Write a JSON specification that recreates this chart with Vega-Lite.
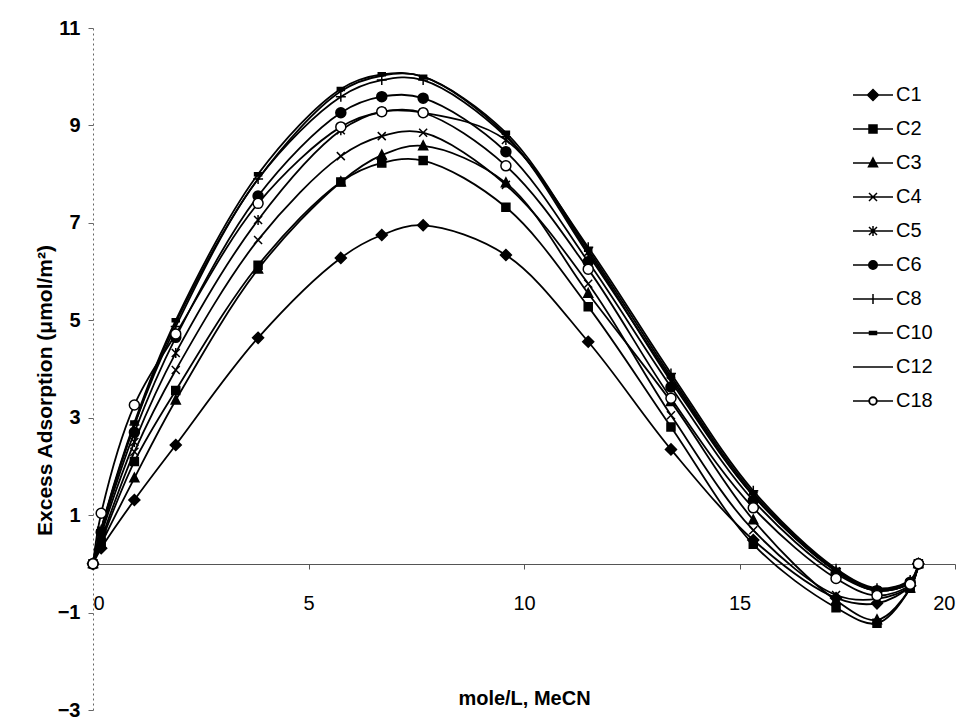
{
  "$schema": "https://vega.github.io/schema/vega-lite/v6.json",
  "width": 862,
  "height": 682,
  "autosize": "none",
  "padding": {"left": 93, "top": 28, "right": 17, "bottom": 14},
  "background": "white",
  "config": {"view": {"stroke": null}, "font": "Liberation Sans"},
  "datasets": {
    "pts": [
      {"s":"C1","x":0,"y":0},{"s":"C1","x":0.19,"y":0.32},{"s":"C1","x":0.96,"y":1.31},{"s":"C1","x":1.92,"y":2.44},{"s":"C1","x":3.83,"y":4.64},{"s":"C1","x":5.75,"y":6.28},{"s":"C1","x":6.70,"y":6.75},{"s":"C1","x":7.66,"y":6.95},{"s":"C1","x":9.58,"y":6.34},{"s":"C1","x":11.49,"y":4.56},{"s":"C1","x":13.41,"y":2.35},{"s":"C1","x":15.32,"y":0.49},{"s":"C1","x":17.24,"y":-0.70},{"s":"C1","x":18.19,"y":-0.81},{"s":"C1","x":18.96,"y":-0.45},{"s":"C1","x":19.15,"y":0},
      {"s":"C2","x":0,"y":0},{"s":"C2","x":0.19,"y":0.45},{"s":"C2","x":0.96,"y":2.10},{"s":"C2","x":1.92,"y":3.56},{"s":"C2","x":3.83,"y":6.13},{"s":"C2","x":5.75,"y":7.84},{"s":"C2","x":6.70,"y":8.23},{"s":"C2","x":7.66,"y":8.28},{"s":"C2","x":9.58,"y":7.32},{"s":"C2","x":11.49,"y":5.28},{"s":"C2","x":13.41,"y":2.81},{"s":"C2","x":15.32,"y":0.40},{"s":"C2","x":17.24,"y":-0.90},{"s":"C2","x":18.19,"y":-1.22},{"s":"C2","x":18.96,"y":-0.50},{"s":"C2","x":19.15,"y":0},
      {"s":"C3","x":0,"y":0},{"s":"C3","x":0.19,"y":0.40},{"s":"C3","x":0.96,"y":1.76},{"s":"C3","x":1.92,"y":3.36},{"s":"C3","x":3.83,"y":6.05},{"s":"C3","x":5.75,"y":7.84},{"s":"C3","x":6.70,"y":8.39},{"s":"C3","x":7.66,"y":8.58},{"s":"C3","x":9.58,"y":7.82},{"s":"C3","x":11.49,"y":5.55},{"s":"C3","x":13.41,"y":3.33},{"s":"C3","x":15.32,"y":0.90},{"s":"C3","x":17.24,"y":-0.75},{"s":"C3","x":18.19,"y":-1.15},{"s":"C3","x":18.96,"y":-0.50},{"s":"C3","x":19.15,"y":0},
      {"s":"C4","x":0,"y":0},{"s":"C4","x":0.19,"y":0.50},{"s":"C4","x":0.96,"y":2.30},{"s":"C4","x":1.92,"y":3.98},{"s":"C4","x":3.83,"y":6.65},{"s":"C4","x":5.75,"y":8.37},{"s":"C4","x":6.70,"y":8.78},{"s":"C4","x":7.66,"y":8.85},{"s":"C4","x":9.58,"y":7.78},{"s":"C4","x":11.49,"y":5.75},{"s":"C4","x":13.41,"y":3.05},{"s":"C4","x":15.32,"y":0.69},{"s":"C4","x":17.24,"y":-0.64},{"s":"C4","x":18.19,"y":-0.72},{"s":"C4","x":18.96,"y":-0.45},{"s":"C4","x":19.15,"y":0},
      {"s":"C5","x":0,"y":0},{"s":"C5","x":0.19,"y":0.60},{"s":"C5","x":0.96,"y":2.50},{"s":"C5","x":1.92,"y":4.33},{"s":"C5","x":3.83,"y":7.06},{"s":"C5","x":5.75,"y":8.90},{"s":"C5","x":6.70,"y":9.28},{"s":"C5","x":7.66,"y":9.26},{"s":"C5","x":9.58,"y":8.70},{"s":"C5","x":11.49,"y":6.40},{"s":"C5","x":13.41,"y":3.75},{"s":"C5","x":15.32,"y":1.40},{"s":"C5","x":17.24,"y":-0.15},{"s":"C5","x":18.19,"y":-0.55},{"s":"C5","x":18.96,"y":-0.38},{"s":"C5","x":19.15,"y":0},
      {"s":"C6","x":0,"y":0},{"s":"C6","x":0.19,"y":0.65},{"s":"C6","x":0.96,"y":2.70},{"s":"C6","x":1.92,"y":4.65},{"s":"C6","x":3.83,"y":7.55},{"s":"C6","x":5.75,"y":9.26},{"s":"C6","x":6.70,"y":9.59},{"s":"C6","x":7.66,"y":9.56},{"s":"C6","x":9.58,"y":8.46},{"s":"C6","x":11.49,"y":6.20},{"s":"C6","x":13.41,"y":3.63},{"s":"C6","x":15.32,"y":1.30},{"s":"C6","x":17.24,"y":-0.20},{"s":"C6","x":18.19,"y":-0.55},{"s":"C6","x":18.96,"y":-0.38},{"s":"C6","x":19.15,"y":0},
      {"s":"C8","x":0,"y":0},{"s":"C8","x":0.19,"y":0.70},{"s":"C8","x":0.96,"y":2.85},{"s":"C8","x":1.92,"y":4.87},{"s":"C8","x":3.83,"y":7.90},{"s":"C8","x":5.75,"y":9.59},{"s":"C8","x":6.70,"y":9.93},{"s":"C8","x":7.66,"y":9.93},{"s":"C8","x":9.58,"y":8.77},{"s":"C8","x":11.49,"y":6.50},{"s":"C8","x":13.41,"y":3.91},{"s":"C8","x":15.32,"y":1.50},{"s":"C8","x":17.24,"y":-0.10},{"s":"C8","x":18.19,"y":-0.50},{"s":"C8","x":18.96,"y":-0.33},{"s":"C8","x":19.15,"y":0},
      {"s":"C10","x":0,"y":0},{"s":"C10","x":0.19,"y":0.72},{"s":"C10","x":0.96,"y":2.90},{"s":"C10","x":1.92,"y":5.00},{"s":"C10","x":3.83,"y":8.00},{"s":"C10","x":5.75,"y":9.75},{"s":"C10","x":6.70,"y":10.05},{"s":"C10","x":7.66,"y":10.00},{"s":"C10","x":9.58,"y":8.85},{"s":"C10","x":11.49,"y":6.45},{"s":"C10","x":13.41,"y":3.85},{"s":"C10","x":15.32,"y":1.45},{"s":"C10","x":17.24,"y":-0.12},{"s":"C10","x":18.19,"y":-0.52},{"s":"C10","x":18.96,"y":-0.35},{"s":"C10","x":19.15,"y":0},
      {"s":"C12","x":0,"y":0},{"s":"C12","x":0.19,"y":0.70},{"s":"C12","x":0.96,"y":2.85},{"s":"C12","x":1.92,"y":4.95},{"s":"C12","x":3.83,"y":7.90},{"s":"C12","x":5.75,"y":9.70},{"s":"C12","x":6.70,"y":10.02},{"s":"C12","x":7.66,"y":10.00},{"s":"C12","x":9.58,"y":8.80},{"s":"C12","x":11.49,"y":6.35},{"s":"C12","x":13.41,"y":3.80},{"s":"C12","x":15.32,"y":1.40},{"s":"C12","x":17.24,"y":-0.15},{"s":"C12","x":18.19,"y":-0.55},{"s":"C12","x":18.96,"y":-0.38},{"s":"C12","x":19.15,"y":0},
      {"s":"C18","x":0,"y":0},{"s":"C18","x":0.19,"y":1.04},{"s":"C18","x":0.96,"y":3.26},{"s":"C18","x":1.92,"y":4.72},{"s":"C18","x":3.83,"y":7.40},{"s":"C18","x":5.75,"y":8.97},{"s":"C18","x":6.70,"y":9.28},{"s":"C18","x":7.66,"y":9.26},{"s":"C18","x":9.58,"y":8.17},{"s":"C18","x":11.49,"y":6.05},{"s":"C18","x":13.41,"y":3.40},{"s":"C18","x":15.32,"y":1.15},{"s":"C18","x":17.24,"y":-0.30},{"s":"C18","x":18.19,"y":-0.65},{"s":"C18","x":18.96,"y":-0.42},{"s":"C18","x":19.15,"y":0}
    ]
  },
  "data": {"name": "pts"},
  "encoding": {
    "x": {
      "field": "x", "type": "quantitative",
      "scale": {"domain": [0, 20], "nice": false, "zero": false},
      "axis": {
        "title": "mole/L, MeCN", "values": [0, 5, 10, 15, 20], "grid": false,
        "offset": -146, "domainColor": "#555", "domainWidth": 1.2,
        "tickColor": "#555", "tickSize": 5, "labelPadding": 24,
        "labelFont": "Liberation Sans", "labelFontSize": 20, "labelColor": "black", "labelFontWeight": "normal",
        "titleFont": "Liberation Sans", "titleFontSize": 20, "titleFontWeight": "bold", "titleColor": "black",
        "titleY": 134, "titleBaseline": "middle"
      }
    },
    "y": {
      "field": "y", "type": "quantitative",
      "scale": {"domain": [-3, 11], "nice": false, "zero": false},
      "axis": {
        "title": "Excess Adsorption (μmol/m²)", "values": [-3, -1, 1, 3, 5, 7, 9, 11], "grid": false,
        "domainColor": "#666", "domainDash": [2, 3], "domainWidth": 1,
        "tickColor": "#666", "tickSize": 5, "labelPadding": 8,
        "labelFont": "Liberation Sans", "labelFontSize": 20, "labelColor": "black", "labelFontWeight": "bold",
        "titleFont": "Liberation Sans", "titleFontSize": 21, "titleFontWeight": "bold", "titleColor": "black",
        "titleX": -48, "titleY": 362, "titleBaseline": "middle", "titleAngle": -90
      }
    }
  },
  "layer": [
    {
      "mark": {"type": "line", "interpolate": "catmull-rom", "stroke": "black", "strokeWidth": 1.8},
      "encoding": {"detail": {"field": "s", "type": "nominal"}}
    },
    {
      "mark": {"type": "point", "filled": true, "stroke": "black", "strokeWidth": 1.5, "size": 100, "opacity": 1},
      "encoding": {
        "shape": {
          "field": "s", "type": "nominal",
          "scale": {
            "domain": ["C1","C2","C3","C4","C5","C6","C8","C10","C12","C18"],
            "range": [
              "M0,-1.1L1.1,0L0,1.1L-1.1,0Z",
              "M-0.8,-0.8L0.8,-0.8L0.8,0.8L-0.8,0.8Z",
              "M0,-1L0.9,0.75L-0.9,0.75Z",
              "M-0.8,-0.8L0.8,0.8M-0.8,0.8L0.8,-0.8",
              "M-0.8,-0.8L0.8,0.8M-0.8,0.8L0.8,-0.8M0,-1L0,1",
              "circle",
              "M0,-1L0,1M-1,0L1,0",
              "M-0.7,-0.3L0.7,-0.3L0.7,0.3L-0.7,0.3Z",
              "M-0.4,0L0.4,0",
              "circle"
            ]
          },
          "legend": null
        },
        "fill": {
          "field": "s", "type": "nominal",
          "scale": {
            "domain": ["C1","C2","C3","C4","C5","C6","C8","C10","C12","C18"],
            "range": ["black","black","black","black","black","black","black","black","black","white"]
          },
          "legend": null
        }
      }
    },
    {
      "transform": [{"filter": "datum.x < -100"}],
      "mark": {"type": "point", "filled": true, "fill": "black", "color": "black", "stroke": "black", "strokeWidth": 1.3, "size": 100, "opacity": 1},
      "encoding": {
        "shape": {
          "field": "s", "type": "nominal",
          "scale": {
            "domain": ["C1","C2","C3","C4","C5","C6","C8","C10","C12","C18"],
            "range": [
              "M-4,0L4,0M0,-1.1L1.1,0L0,1.1L-1.1,0Z",
              "M-4,0L4,0M-0.8,-0.8L0.8,-0.8L0.8,0.8L-0.8,0.8Z",
              "M-4,0L4,0M0,-1L0.9,0.75L-0.9,0.75Z",
              "M-4,0L4,0M-0.8,-0.8L0.8,0.8M-0.8,0.8L0.8,-0.8",
              "M-4,0L4,0M-0.8,-0.8L0.8,0.8M-0.8,0.8L0.8,-0.8M0,-1L0,1",
              "M-4,0L4,0M0.85,0A0.85,0.85,0,1,1,-0.85,0A0.85,0.85,0,1,1,0.85,0Z",
              "M-4,0L4,0M0,-1L0,1",
              "M-4,0L4,0M-0.7,-0.3L0.7,-0.3L0.7,0.3L-0.7,0.3Z",
              "M-4,0L4,0",
              "M-4,0L-0.8,0M0.8,0L4,0M0.8,0A0.8,0.8,0,1,1,-0.8,0A0.8,0.8,0,1,1,0.8,0ZM0.72,0A0.72,0.72,0,1,0,-0.72,0A0.72,0.72,0,1,0,0.72,0Z"
            ]
          },
          "legend": {
            "orient": "none", "legendX": 770, "legendY": 57, "title": null, "padding": 0,
            "symbolSize": 100, "rowPadding": 14, "labelOffset": 13, "symbolOpacity": 1,
            "symbolFillColor": "black",
            "labelFont": "Liberation Sans", "labelFontSize": 20, "labelColor": "black",
            "encode": {
              "symbols": {
                "stroke": {"value": "black"},
                "strokeWidth": {"value": 1.3},
                "strokeOpacity": {"value": 1},
                "fill": {"value": "black"},
                "fillOpacity": {"value": 1}
              }
            }
          }
        }
      }
    }
  ],
  "resolve": {"scale": {"shape": "independent"}}
}
